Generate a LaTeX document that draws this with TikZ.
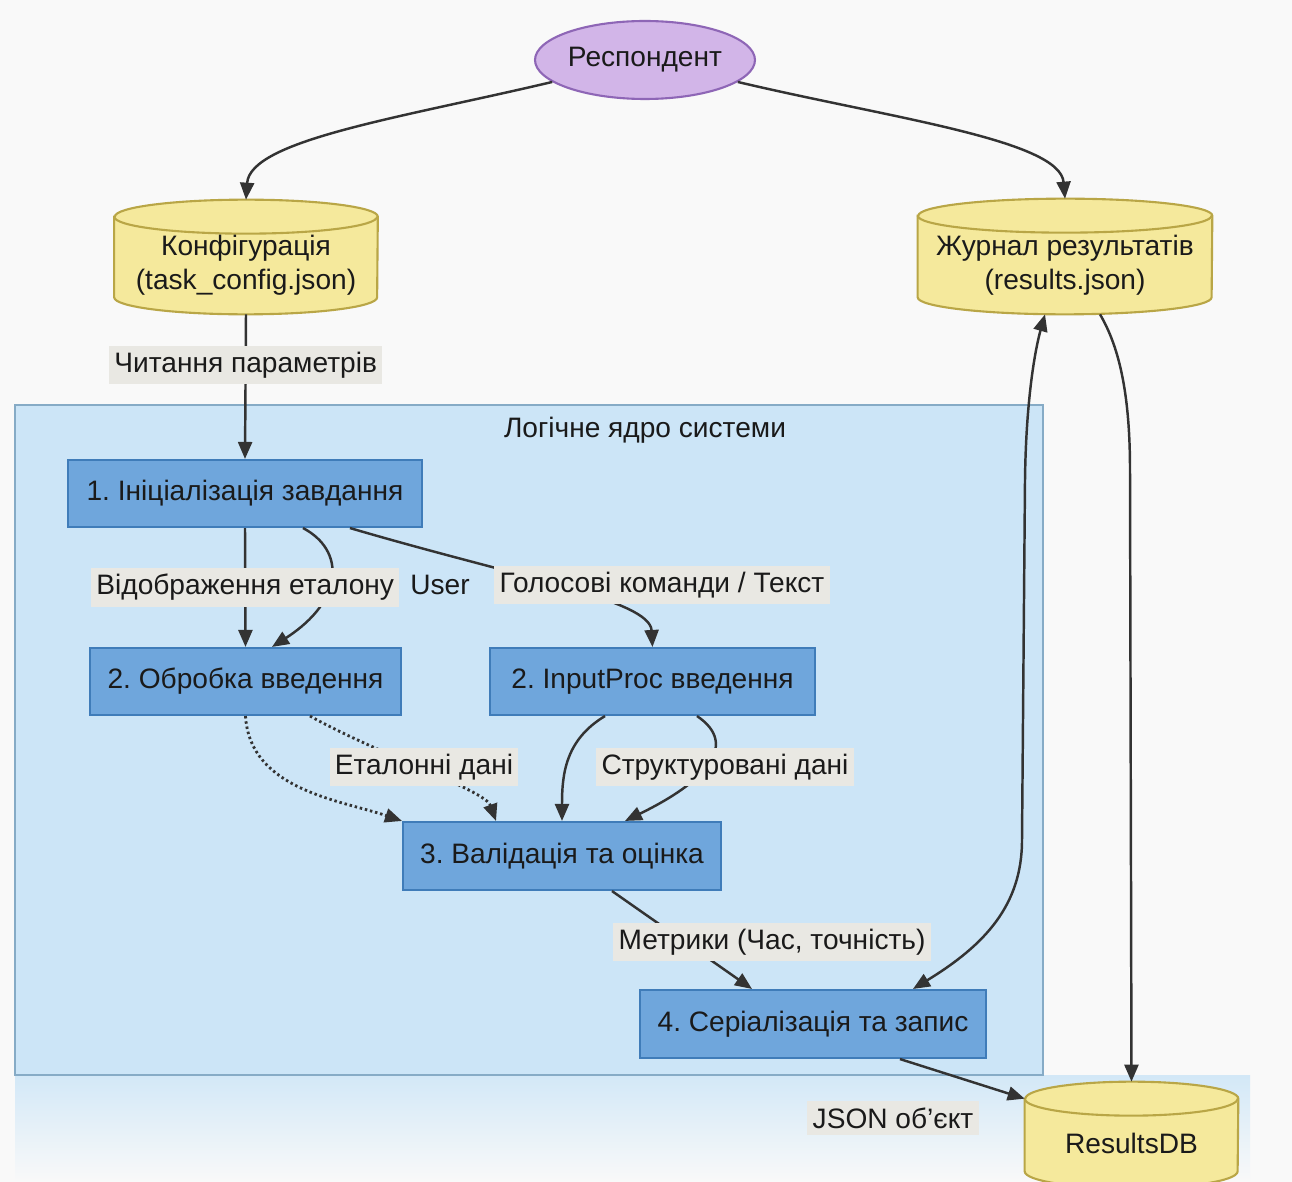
\documentclass[tikz,border=0pt]{standalone}
\usepackage{fontspec}
\setmainfont{Liberation Sans}
\usetikzlibrary{arrows.meta,shapes.geometric}
\pgfdeclarelayer{bg}
\pgfdeclarelayer{mid}
\pgfsetlayers{bg,mid,main}
\frenchspacing
\definecolor{pagebg}{HTML}{F9F9F9}
\definecolor{clfill}{HTML}{CCE5F7}
\definecolor{clline}{HTML}{86ABC6}
\definecolor{boxfill}{HTML}{6FA6DC}
\definecolor{boxline}{HTML}{3F7CB9}
\definecolor{cylfill}{HTML}{F5E99C}
\definecolor{cylline}{HTML}{B9A646}
\definecolor{elfill}{HTML}{D2B5E8}
\definecolor{elline}{HTML}{8E66B6}
\definecolor{lblfill}{HTML}{E9E8E3}
\definecolor{edgecol}{HTML}{333333}
\definecolor{txtcol}{HTML}{1A1A1A}
\newcommand\dbcyl[3]{%
  \path[fill=cylfill, draw=cylline, line width=1.2pt]
    (#1.north west) -- ([yshift=#3]#1.south west)
    arc[start angle=180, end angle=360, x radius=#2, y radius=#3]
    -- (#1.north east)
    arc[start angle=0, end angle=180, x radius=#2, y radius=#3] -- cycle;
  \draw[cylline, line width=1.2pt] (#1.north west)
    arc[start angle=180, end angle=360, x radius=#2, y radius=#3];
}
\tikzset{
  >={Triangle[length=0.34cm,width=0.28cm]},
  txt/.style={font=\fontsize{16}{19.5}\selectfont, text=txtcol},
  stepbox/.style={txt, rectangle, draw=boxline, fill=boxfill, line width=1.2pt, inner sep=0pt},
  dbnode/.style={txt, rectangle, inner sep=0pt, align=center},
  edge/.style={draw=edgecol, line width=1.4pt, ->},
  dotedge/.style={edge, line width=1.6pt, dash pattern=on 1.4pt off 1.6pt},
  lbl/.style={txt, fill=lblfill, inner xsep=3pt, inner ysep=3.5pt},
  plainlbl/.style={txt, inner sep=2pt},
}
\begin{document}
\begin{tikzpicture}[x=0.02cm,y=-0.02cm]
\useasboundingbox (0,0) rectangle (1292,1182);
\begin{pgfonlayer}{bg}
  \fill[pagebg] (0,0) rectangle (1292,1182);
  \shade[top color=clfill!85!pagebg, bottom color=pagebg] (15,1075) rectangle (1250,1182);
  \filldraw[fill=clfill, draw=clline, line width=1.2pt] (15,405) rectangle (1043,1075);
\end{pgfonlayer}

\node[plainlbl] (cltitle) at (645,430) {Логічне ядро системи};

\node[txt, ellipse, draw=elline, fill=elfill, line width=1.2pt, minimum width=4.4cm,
      minimum height=1.56cm, inner sep=0pt] (resp) at (645,60) {\raisebox{-1.5pt}{Респондент}};

\node[dbnode, minimum width=5.26cm, minimum height=1.94cm] (cfg) at (246,265.5)
  {Конфігурація\\(task\_config.json)};
\node[dbnode, minimum width=5.88cm, minimum height=1.96cm] (jrn) at (1065,265)
  {Журнал результатів\\(results.json)};
\node[dbnode, minimum width=4.26cm, minimum height=1.78cm] (rdb) at (1131.5,1143.5)
  {ResultsDB};

\begin{pgfonlayer}{mid}
  \dbcyl{cfg}{2.63cm}{0.34cm}
  \dbcyl{jrn}{2.94cm}{0.34cm}
  \dbcyl{rdb}{2.13cm}{0.34cm}
\end{pgfonlayer}

\node[stepbox, minimum width=7.08cm, minimum height=1.34cm] (b1) at (245,493.5) {1. Ініціалізація завдання};
\node[stepbox, minimum width=6.22cm, minimum height=1.34cm] (b2a) at (245.5,681.5) {2. Обробка введення};
\node[stepbox, minimum width=6.5cm, minimum height=1.34cm] (b2b) at (652.5,681.5) {2. InputProc введення};
\node[stepbox, minimum width=6.36cm, minimum height=1.36cm] (b3) at (562,856) {3. Валідація та оцінка};
\node[stepbox, minimum width=6.92cm, minimum height=1.36cm] (b4) at (813,1024) {4. Серіалізація та запис};

% top edges
\draw[edge] (resp) .. controls (400,118) and (250,140) .. ([yshift=0.34cm]cfg.north);
\draw[edge] (resp) .. controls (890,118) and (1060,140) .. ([yshift=0.34cm]jrn.north);
\draw[edge] (cfg.south) -- node[lbl, pos=0.35] {Читання параметрів} (b1.north);

% from step 1
\draw[edge] ([xshift=1.16cm]b1.south) .. controls (345,550) and (345,600) .. ([xshift=0.53cm]b2a.north);
\node[plainlbl] (luser) at (440,585) {User};
\draw[edge] (b1.south) -- node[lbl] {Відображення еталону} (b2a.north);
\draw[edge] ([xshift=2.1cm]b1.south) .. controls (520,578) and (650,600) .. (b2b.north)
  node[lbl] at (662,585) {Голосові команди / Текст};

% to step 3
\draw[dotedge] (b2a.south) .. controls (250,790) and (340,800) .. (b3.north west);
\draw[dotedge] ([xshift=1.29cm]b2a.south) .. controls (380,755) and (485,790) .. ([xshift=-1.32cm]b3.north)
  node[lbl] at (424,767) {Еталонні дані};
\draw[edge] ([xshift=-0.95cm]b2b.south) .. controls (565,740) and (562,775) .. (b3.north);
\draw[edge] ([xshift=0.89cm]b2b.south) .. controls (740,745) and (705,782) .. ([xshift=1.26cm]b3.north)
  node[lbl] at (725,767) {Структуровані дані};

% to step 4
\draw[edge] ([xshift=1cm]b3.south) -- ([xshift=-1.22cm]b4.north);
\node[lbl] (lmet) at (772,942) {Метрики (Час, точність)};

% journal <-> step 4
\draw[edge, <->] ([xshift=-0.4cm]jrn.south) .. controls (1035,350) and (1026,400) .. (1025,480)
  -- (1022,840) .. controls (1022,905) and (985,945) .. ([xshift=2cm]b4.north);
\draw[edge] ([xshift=0.7cm]jrn.south) .. controls (1118,345) and (1130,390) .. (1130,470)
  -- ([yshift=0.34cm]rdb.north);
\draw[edge] ([xshift=1.74cm]b4.south) -- (rdb.north west);
\node[lbl] (ljson) at (893,1118) {JSON об'єкт};
\end{tikzpicture}
\end{document}
